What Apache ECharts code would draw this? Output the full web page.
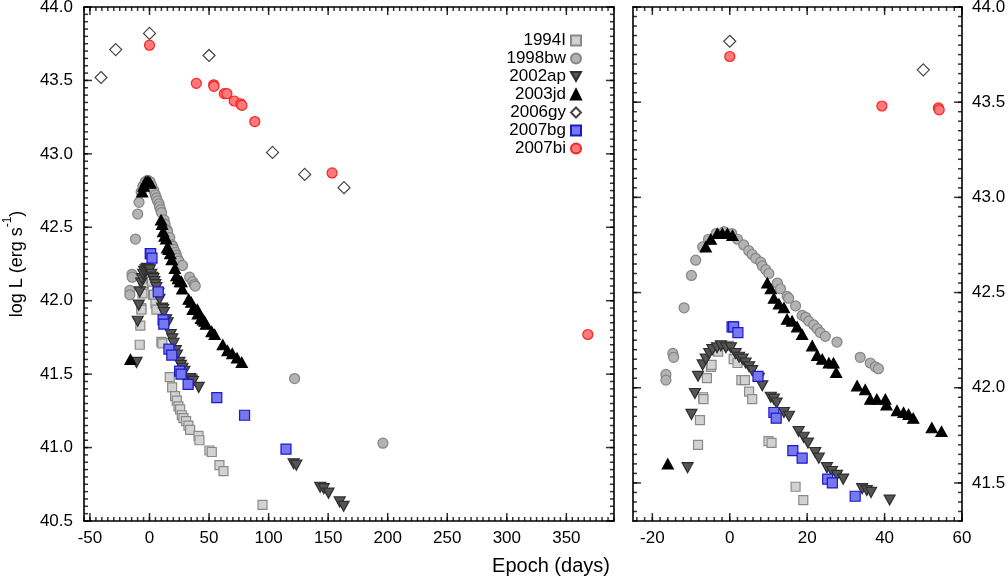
<!DOCTYPE html>
<html>
<head>
<meta charset="utf-8">
<script src="https://cdn.jsdelivr.net/npm/echarts@6/dist/echarts.min.js"></script>
<style>
html,body{margin:0;padding:0;background:#fff;}
#chart{width:1008px;height:578px;}
</style>
</head>
<body>
<div id="chart"></div>
<script>
// ---------------- DATA ----------------
var seriesNames = ['1994I', '1998bw', '2002ap', '2003jd', '2006gy', '2007bg', '2007bi'];

var sn1994I_day  = [-8.2, -7.7, -6.9, -6.8, -5.9, -4.9, -4.7, -3.0, -0.2, 1.0, 2.0, 3.0, 3.9, 5.0, 5.8, 10.0, 10.8, 17.0, 19.0, 21.5, 22.9, 24.3, 25.7, 27.1, 28.5, 30.7, 32.7, 34.1, 41.1, 41.9, 50.3, 52.3, 58.7, 62.1, 94.9];
var sn1994I_logL = [41.70, 41.83, 41.95, 41.94, 42.05, 42.11, 42.12, 42.19, 42.22, 42.15, 42.13, 42.04, 42.04, 41.98, 41.94, 41.72, 41.71, 41.48, 41.41, 41.35, 41.32, 41.28, 41.26, 41.22, 41.20, 41.18, 41.15, 41.12, 41.08, 41.05, 40.98, 40.97, 40.88, 40.84, 40.61];

var sn1998bw_day  = [-16.5, -16.5, -14.7, -14.5, -11.8, -9.9, -8.8, -7.0, -5.5, -3.5, -1.5, 0.5, 2.0, 3.6, 4.9, 5.8, 6.7, 8.0, 8.4, 9.3, 10.1, 12.3, 13.1, 14.8, 15.2, 17.0, 18.7, 19.6, 20.4, 21.7, 22.6, 23.4, 24.7, 27.7, 33.7, 36.3, 37.6, 38.4, 121.8, 196.0];
var sn1998bw_logL = [42.07, 42.04, 42.18, 42.16, 42.42, 42.59, 42.67, 42.74, 42.78, 42.81, 42.82, 42.81, 42.78, 42.75, 42.72, 42.70, 42.68, 42.66, 42.64, 42.62, 42.60, 42.55, 42.52, 42.48, 42.47, 42.43, 42.38, 42.37, 42.35, 42.33, 42.31, 42.29, 42.27, 42.24, 42.16, 42.13, 42.11, 42.10, 41.47, 41.03];

var sn2002ap_day  = [-10.9, -9.9, -9.0, -8.2, -7.0, -6.2, -5.3, -4.5, -3.3, -2.3, -1.0, 0.3, 1.5, 2.4, 3.3, 4.1, 5.0, 5.8, 7.5, 8.4, 10.6, 11.4, 12.1, 14.0, 15.3, 17.8, 19.1, 20.2, 22.1, 23.0, 25.1, 26.4, 27.7, 29.3, 34.2, 35.4, 36.5, 41.3, 121.0, 123.3, 143.3, 146.3, 150.3, 159.7, 163.0];
var sn2002ap_logL = [41.58, 41.86, 41.97, 42.06, 42.12, 42.15, 42.18, 42.20, 42.21, 42.22, 42.21, 42.21, 42.18, 42.16, 42.15, 42.13, 42.11, 42.09, 42.05, 42.01, 41.95, 41.94, 41.92, 41.87, 41.85, 41.77, 41.74, 41.71, 41.66, 41.63, 41.58, 41.56, 41.54, 41.52, 41.47, 41.46, 41.45, 41.41, 40.89, 40.88, 40.73, 40.72, 40.69, 40.63, 40.60];

var sn2003jd_day  = [-16.0, -6.2, -4.9, -3.2, -1.9, -0.6, 0.7, 9.7, 10.6, 11.4, 12.7, 14.0, 14.8, 16.1, 17.4, 18.7, 21.3, 22.6, 23.9, 25.6, 26.8, 27.5, 32.9, 35.0, 36.3, 38.0, 40.2, 40.5, 43.2, 44.9, 46.2, 47.4, 52.2, 54.7, 61.5, 65.5, 69.5, 73.5, 77.5];
var sn2003jd_logL = [41.60, 42.74, 42.78, 42.81, 42.81, 42.81, 42.80, 42.55, 42.52, 42.47, 42.44, 42.42, 42.36, 42.35, 42.32, 42.28, 42.22, 42.17, 42.15, 42.13, 42.13, 42.08, 42.01, 41.99, 41.94, 41.94, 41.94, 41.91, 41.88, 41.87, 41.86, 41.84, 41.79, 41.77, 41.70, 41.66, 41.64, 41.61, 41.58];

var sn2006gy_day  = [-40.7, -28.4, 0.0, 50.0, 103.3, 130.3, 163.3];
var sn2006gy_logL = [43.52, 43.71, 43.82, 43.67, 43.01, 42.86, 42.77];

var sn2007bg_day  = [0.6, 1.0, 2.1, 7.3, 11.4, 12.0, 16.3, 18.7, 25.3, 26.5, 32.4, 56.5, 79.8, 114.6];
var sn2007bg_logL = [42.32, 42.32, 42.29, 42.06, 41.87, 41.84, 41.67, 41.63, 41.52, 41.50, 41.43, 41.34, 41.22, 40.99];

var sn2007bi_day  = [0.0, 39.3, 53.9, 54.1, 62.8, 65.0, 71.1, 76.7, 77.6, 88.4, 153.3, 368.0];
var sn2007bi_logL = [43.74, 43.48, 43.47, 43.46, 43.41, 43.41, 43.36, 43.34, 43.33, 43.22, 42.87, 41.77];

var leftXTicks  = [-50, 0, 50, 100, 150, 200, 250, 300, 350];
var rightXTicks = [-20, 0, 20, 40, 60];
var leftYTicks  = [40.5, 41.0, 41.5, 42.0, 42.5, 43.0, 43.5, 44.0];
var rightYTicks = [41.5, 42.0, 42.5, 43.0, 43.5, 44.0];

// ---------------- LAYOUT / STYLE ----------------
var FONT = '"Liberation Sans", Arial, Helvetica, sans-serif';
var L_XMIN = -55, L_XMAX = 390, L_YMIN = 40.5, L_YMAX = 44.0;
var R_XMIN = -25, R_XMAX = 60,  R_YMIN = 41.3, R_YMAX = 44.0;
var GRID_L = {left: 84, top: 7, width: 530, height: 514};
var GRID_R = {left: 633, top: 7, width: 329, height: 514};

var styles = {
  '1994I':  {symbol: 'rect', size: 9, fill: '#d2d2d2', stroke: '#8a8a8a'},
  '1998bw': {symbol: 'circle', size: 10, fill: '#b3b3b3', stroke: '#858585'},
  '2002ap': {symbol: 'path://M0,0L10,0L5,9Z', size: [11, 10], fill: '#555555', stroke: '#2e2e2e'},
  '2003jd': {symbol: 'triangle', size: [11, 10], fill: '#000000', stroke: '#000000'},
  '2006gy': {symbol: 'diamond', size: [12, 12], fill: '#ffffff', stroke: '#444444'},
  '2007bg': {symbol: 'rect', size: 10, fill: '#7777ee', stroke: '#1a1ac8'},
  '2007bi': {symbol: 'circle', size: 10, fill: '#ff7a7a', stroke: '#ff2020'}
};

var dataSets = {
  '1994I':  [sn1994I_day, sn1994I_logL],
  '1998bw': [sn1998bw_day, sn1998bw_logL],
  '2002ap': [sn2002ap_day, sn2002ap_logL],
  '2003jd': [sn2003jd_day, sn2003jd_logL],
  '2006gy': [sn2006gy_day, sn2006gy_logL],
  '2007bg': [sn2007bg_day, sn2007bg_logL],
  '2007bi': [sn2007bi_day, sn2007bi_logL]
};

function zip(a, b) { return a.map(function (v, i) { return [v, b[i]]; }); }
function steps(a, b, s) {
  var out = [], n = Math.round((b - a) / s);
  for (var i = 0; i <= n; i++) out.push(Math.round((a + i * s) * 1000) / 1000);
  return out;
}

function frameAxis(grid, pos, min, max, labels, fmt, margin) {
  var ax = {
    type: 'value', gridIndex: grid, position: pos, min: min, max: max,
    splitLine: {show: false},
    axisLine: {show: true, onZero: false, lineStyle: {color: '#000', width: 1.6}},
    axisTick: {show: false},
    axisLabel: {show: false}
  };
  if (labels) {
    ax.axisLabel = {show: true, customValues: labels, formatter: fmt, margin: margin,
                    color: '#000', fontSize: 17, fontFamily: FONT};
  }
  return ax;
}

var fmtX = function (v) { return String(Math.round(v)); };
var fmtY = function (v) { return v.toFixed(1); };

var xAxes = [
  frameAxis(0, 'bottom', L_XMIN, L_XMAX, leftXTicks, fmtX, 9),
  frameAxis(0, 'top', L_XMIN, L_XMAX),
  frameAxis(1, 'bottom', R_XMIN, R_XMAX, rightXTicks, fmtX, 9),
  frameAxis(1, 'top', R_XMIN, R_XMAX)
];
var yAxes = [
  frameAxis(0, 'left', L_YMIN, L_YMAX, leftYTicks, fmtY, 11),
  frameAxis(0, 'right', L_YMIN, L_YMAX),
  frameAxis(1, 'right', R_YMIN, R_YMAX, rightYTicks, fmtY, 10),
  frameAxis(1, 'left', R_YMIN, R_YMAX)
];

yAxes[0].name = '{a|log L (erg s}{b|-1}{a|)}';
yAxes[0].nameLocation = 'middle';
yAxes[0].nameRotate = 90;
yAxes[0].nameGap = 58;
yAxes[0].nameTextStyle = {
  color: '#000', fontFamily: FONT,
  rich: {
    a: {fontSize: 18, fontFamily: FONT, color: '#000', lineHeight: 24, verticalAlign: 'bottom'},
    b: {fontSize: 12, fontFamily: FONT, color: '#000', lineHeight: 24, verticalAlign: 'top', padding: [0, 0, 10, 0]}
  }
};

var series = [];
seriesNames.forEach(function (name) {
  var st = styles[name];
  var pts = zip(dataSets[name][0], dataSets[name][1]);
  var common = {
    type: 'scatter', name: name, symbol: st.symbol, symbolSize: st.size,
    itemStyle: {color: st.fill, borderColor: st.stroke, borderWidth: 1.2, opacity: 1},
    emphasis: {disabled: true}, clip: true
  };
  series.push(Object.assign({}, common, {xAxisIndex: 0, yAxisIndex: 0, data: pts}));
  // right panel: same data; points too close to the frame are not drawn (as in the source plot)
  var rpts = pts.filter(function (p) { return p[1] >= R_YMIN + 0.06 && p[0] >= R_XMIN && p[0] <= R_XMAX; });
  series.push(Object.assign({}, common, {xAxisIndex: 2, yAxisIndex: 2, data: rpts}));
});

// inward tick marks on all four sides of each panel: thin rect symbols whose centre sits
// half a tick-length inside the frame (converted from pixels to axis units via the grid size)
function tickSeries(xi, yi, grid, xMaj, xMin, yMaj, yMin, x0, x1, y0, y1) {
  var ux = (x1 - x0) / grid.width;   // axis units per pixel (x)
  var uy = (y1 - y0) / grid.height;  // axis units per pixel (y)
  var items = [];
  function xt(v, len) {
    var h = len / 2;
    items.push({value: [v, y0 + h * uy], symbolSize: [1.5, len]});
    items.push({value: [v, y1 - h * uy], symbolSize: [1.5, len]});
  }
  function yt(v, len) {
    var h = len / 2;
    items.push({value: [x0 + h * ux, v], symbolSize: [len, 1.5]});
    items.push({value: [x1 - h * ux, v], symbolSize: [len, 1.5]});
  }
  xMin.forEach(function (v) { xt(v, 4); });
  xMaj.forEach(function (v) { xt(v, 8); });
  yMin.forEach(function (v) { yt(v, 4); });
  yMaj.forEach(function (v) { yt(v, 8); });
  return {type: 'scatter', xAxisIndex: xi, yAxisIndex: yi, symbol: 'rect', clip: true,
          itemStyle: {color: '#000'}, data: items};
}

series.push(tickSeries(0, 0, GRID_L, leftXTicks, steps(-55, 390, 5), leftYTicks, steps(40.5, 44.0, 0.05), L_XMIN, L_XMAX, L_YMIN, L_YMAX));
series.push(tickSeries(2, 2, GRID_R, rightXTicks, steps(-24, 60, 2), rightYTicks, steps(41.3, 44.0, 0.05), R_XMIN, R_XMAX, R_YMIN, R_YMAX));

var option = {
  backgroundColor: '#fff',
  animation: false,
  grid: [
    Object.assign({outerBoundsMode: 'none'}, GRID_L),
    Object.assign({outerBoundsMode: 'none'}, GRID_R)
  ],
  xAxis: xAxes,
  yAxis: yAxes,
  legend: {
    data: seriesNames,
    orient: 'vertical',
    align: 'right',
    right: 421,
    top: 27,
    itemWidth: 10,
    itemHeight: 10,
    itemGap: 1,
    selectedMode: false,
    textStyle: {fontSize: 17, fontFamily: FONT, color: '#000', lineHeight: 17}
  },
  graphic: [
    {type: 'text', id: 'xtitle', x: 551, y: 566, silent: true,
     style: {text: 'Epoch (days)', fontSize: 20, fontFamily: FONT, fill: '#000',
             align: 'center', verticalAlign: 'middle'}}
  ],
  series: series
};

var chart = echarts.init(document.getElementById('chart'));
chart.setOption(option);
</script>
</body>
</html>
